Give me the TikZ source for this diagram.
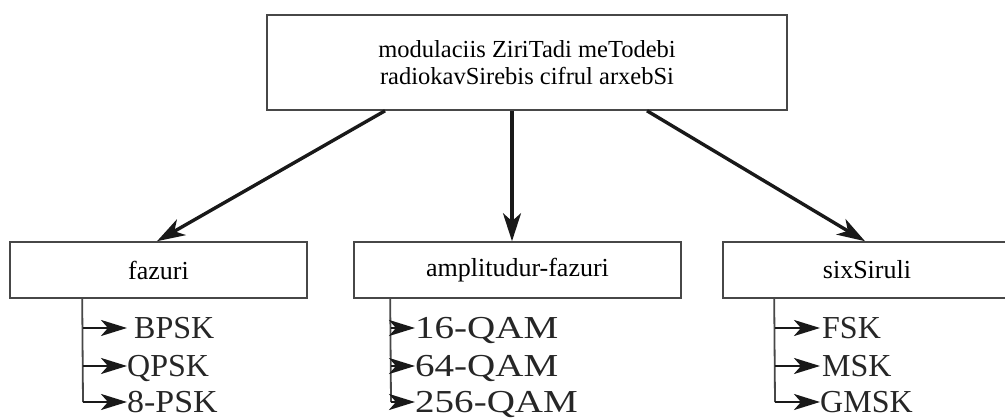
\documentclass[tikz,border=0pt]{standalone}
\usepackage{fontspec}
\setmainfont{Liberation Serif}
\usetikzlibrary{arrows.meta}
\begin{document}
\begin{tikzpicture}[x=1pt,y=-1pt,
  box/.style={draw=black!72, line width=1.6pt, fill=white, inner sep=0pt, font=\fontsize{26}{30}\selectfont},
  main/.style={draw=black!90, line width=3.4pt, -{Stealth[length=28pt,width=18pt,inset=8pt]}},
  vline/.style={draw=black!72, line width=1.8pt},
  sub/.style={draw=black!90, line width=2.8pt, -{Stealth[length=26pt,width=16pt,inset=7pt]}},
  lab/.style={anchor=base west, inner sep=0pt, text=black!85, font=\fontsize{32}{36}\selectfont}
]
\useasboundingbox (0,0) rectangle (1005,419);
\fill[white] (0,0) rectangle (1005,419);
\clip (0,0) rectangle (1005,419);

% boxes
\node[box, minimum width=520pt, minimum height=95pt, align=center,
      font=\fontsize{24.5}{27}\selectfont] (top) at (527,62.5)
      {modulaciis ZiriTadi meTodebi\\radiokavSirebis cifrul arxebSi};
\node[box, minimum width=297pt, minimum height=56pt] (f) at (158.5,270) {fazuri};
\node[box, minimum width=327pt, minimum height=56pt] (a) at (517.5,270) {amplitudur-fazuri};
\node[box, minimum width=288pt, minimum height=56pt] (s) at (867,270) {sixSiruli};

% main connectors
\draw[main] ([xshift=-142pt]top.south) -- ([xshift=-1.5pt]f.north);
\draw[main] ([xshift=-15pt]top.south) -- ([xshift=-5.5pt]a.north);
\draw[main] ([xshift=120pt]top.south) -- ([xshift=-2pt]s.north);

% left column
\coordinate (fv) at ([xshift=73pt]f.south west);
\coordinate (f1) at (83,328);
\coordinate (f2) at (83,366);
\coordinate (f3) at (83,402);
\node[lab] (l1) at (127,338.5) {\hspace{7pt}BPSK};
\node[lab] (l2) at (127,376.5) {QPSK};
\node[lab] (l3) at (127,412.5) {\scalebox{1.06}[1]{8-PSK}};
\draw[vline] (fv) -- (f3);
\draw[sub] (f1) -- (f1 -| l1.west);
\draw[sub] (f2) -- (f2 -| l2.west);
\draw[sub] (f3) -- (f3 -| l3.west);

% middle column
\coordinate (av) at ([xshift=37pt]a.south west);
\coordinate (a1) at (391,328);
\coordinate (a2) at (391,366);
\coordinate (a3) at (391,402);
\node[lab] (m1) at (415,338.5) {\scalebox{1.22}[1]{16-QAM}};
\node[lab] (m2) at (415,376.5) {\scalebox{1.22}[1]{64-QAM}};
\node[lab] (m3) at (415,412.5) {\scalebox{1.22}[1]{256-QAM}};
\draw[vline] (av) -- (a3);
\draw[sub] (a1) -- (a1 -| m1.west);
\draw[sub] (a2) -- (a2 -| m2.west);
\draw[sub] (a3) -- (a3 -| m3.west);

% right column
\coordinate (sv) at ([xshift=52pt]s.south west);
\coordinate (s1) at (775,328);
\coordinate (s2) at (775,366);
\coordinate (s3) at (775,402);
\node[lab] (r1) at (820,338.5) {\hspace{2pt}FSK};
\node[lab] (r2) at (820,376.5) {\hspace{2pt}MSK};
\node[lab] (r3) at (820,412.5) {GMSK};
\draw[vline] (sv) -- (s3);
\draw[sub] (s1) -- (s1 -| r1.west);
\draw[sub] (s2) -- (s2 -| r2.west);
\draw[sub] (s3) -- (s3 -| r3.west);
\end{tikzpicture}
\end{document}
